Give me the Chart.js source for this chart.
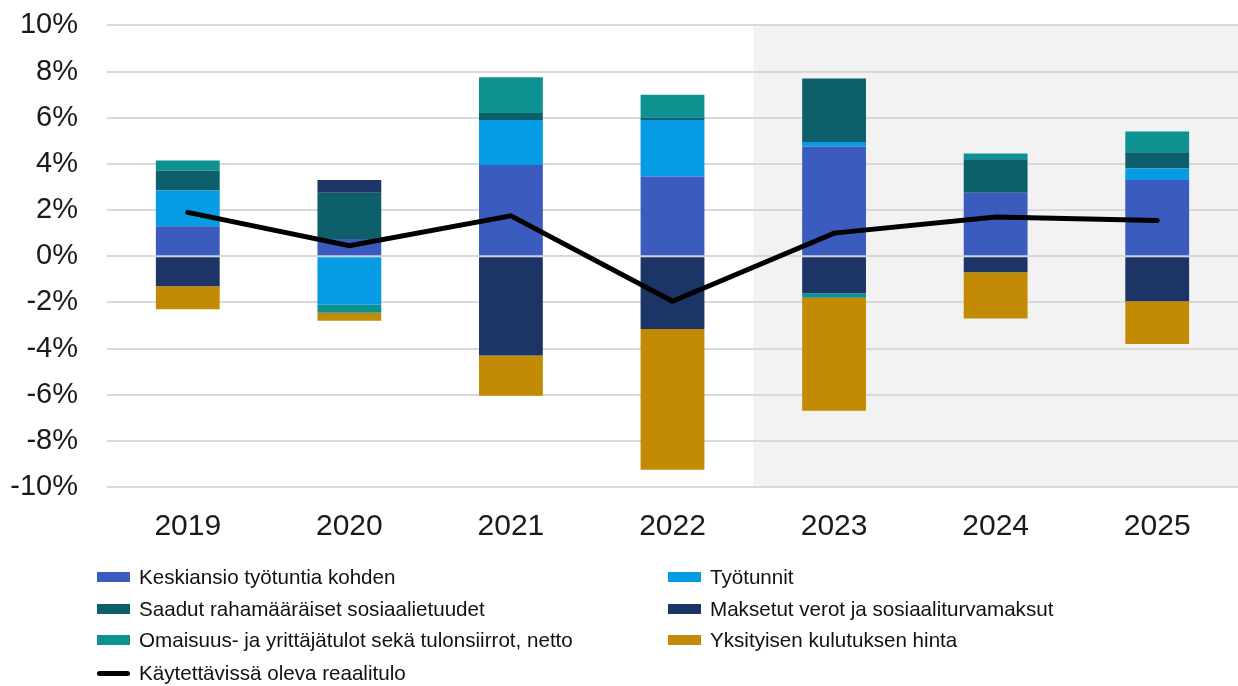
<!DOCTYPE html>
<html>
<head>
<meta charset="utf-8">
<script src="https://cdn.jsdelivr.net/npm/chart.js@4/dist/chart.umd.min.js"></script>
<style>
  html, body { margin: 0; padding: 0; background: #ffffff; }
  #wrap { position: relative; width: 1238px; height: 686px; overflow: hidden; font-family: "Liberation Sans", Arial, sans-serif; }
  #chartBox { position: absolute; left: 0; top: -21px; width: 1238px; height: 580px; }
  #legend { position: absolute; left: 0; top: 0; width: 1238px; height: 686px; pointer-events: none; }
  .li { position: absolute; display: flex; align-items: center; font-size: 20.6px; color: #111; white-space: nowrap; height: 30px; }
  .sw { display: inline-block; width: 33px; height: 10px; margin-right: 9px; }
</style>
</head>
<body>
<div id="wrap">
  <div id="chartBox"><canvas id="c"></canvas></div>
  <div id="legend"></div>
</div>
<script>
// ---- Data ----
const years = ['2019', '2020', '2021', '2022', '2023', '2024', '2025'];
const keskiansio = [1.3, 0.75, 3.95, 3.45, 4.75, 2.75, 3.3];
const tyotunnit = [1.55, -2.1, 1.95, 2.45, 0.2, 0, 0.5];
const saadut = [0.85, 2.0, 0.3, 0.1, 2.75, 1.45, 0.7];
const maksetut = [-1.3, 0.55, -4.3, -3.15, -1.6, -0.7, -1.95];
const omaisuus = [0.45, -0.35, 1.55, 1.0, -0.2, 0.25, 0.9];
const yksityisen = [-1.0, -0.35, -1.75, -6.1, -4.9, -2.0, -1.85];
const reaalitulo = [1.9, 0.45, 1.75, -1.95, 1.0, 1.7, 1.55];
const yTicks = [-10, -8, -6, -4, -2, 0, 2, 4, 6, 8, 10];
const forecastStartIndex = 4; // shaded from 2023 onwards

const seriesNames = {
  keskiansio: 'Keskiansio työtuntia kohden',
  tyotunnit: 'Työtunnit',
  saadut: 'Saadut rahamääräiset sosiaalietuudet',
  maksetut: 'Maksetut verot ja sosiaaliturvamaksut',
  omaisuus: 'Omaisuus- ja yrittäjätulot sekä tulonsiirrot, netto',
  yksityisen: 'Yksityisen kulutuksen hinta',
  reaalitulo: 'Käytettävissä oleva reaalitulo'
};
const colors = {
  keskiansio: '#3b5bbf',
  tyotunnit: '#069be5',
  saadut: '#0d5f6b',
  maksetut: '#1c3566',
  omaisuus: '#0e9191',
  yksityisen: '#c38a03',
  reaalitulo: '#000000'
};

function barDs(key, data) {
  return {
    type: 'bar', label: seriesNames[key], data: data,
    backgroundColor: colors[key], borderWidth: 0,
    stack: 'bars', order: 1,
    barPercentage: 0.395, categoryPercentage: 1.0
  };
}

const shadePlugin = {
  id: 'shade',
  beforeDraw(chart) {
    const {ctx, chartArea, scales} = chart;
    const x = scales.x;
    const x0 = (x.getPixelForValue(forecastStartIndex - 1) + x.getPixelForValue(forecastStartIndex)) / 2;
    ctx.save();
    ctx.fillStyle = '#f2f2f2';
    ctx.fillRect(x0, chartArea.top, chartArea.right - x0 + 2, chartArea.bottom - chartArea.top);
    ctx.restore();
  }
};

const zeroPlugin = {
  id: 'zeroOverBars',
  afterDatasetDraw(chart, args) {
    if (args.index !== 5) return;
    const y = chart.scales.y.getPixelForValue(0);
    const meta = chart.getDatasetMeta(0);
    const ctx = chart.ctx;
    ctx.save();
    ctx.strokeStyle = 'rgba(200,205,225,0.75)';
    ctx.lineWidth = 2;
    meta.data.forEach(b => {
      const w = b.width;
      ctx.beginPath();
      ctx.moveTo(b.x - w / 2, y);
      ctx.lineTo(b.x + w / 2, y);
      ctx.stroke();
    });
    ctx.restore();
  }
};

const chart = new Chart(document.getElementById('c'), {
  data: {
    labels: years,
    datasets: [
      barDs('keskiansio', keskiansio),
      barDs('tyotunnit', tyotunnit),
      barDs('saadut', saadut),
      barDs('maksetut', maksetut),
      barDs('omaisuus', omaisuus),
      barDs('yksityisen', yksityisen),
      {
        type: 'line', label: seriesNames.reaalitulo, data: reaalitulo,
        borderColor: colors.reaalitulo, backgroundColor: colors.reaalitulo,
        borderWidth: 5, pointRadius: 0, tension: 0, stack: 'line', order: 0,
        borderJoinStyle: 'miter', borderCapStyle: 'round'
      }
    ]
  },
  options: {
    responsive: true,
    maintainAspectRatio: false,
    animation: false,
    layout: { padding: { top: 12, right: 0, left: 0, bottom: 0 } },
    plugins: { legend: { display: false }, tooltip: { enabled: false } },
    scales: {
      x: {
        stacked: true,
        grid: { display: false },
        border: { display: false },
        ticks: { color: '#1a1a1a', font: { family: 'Liberation Sans', size: 30 }, padding: 14, maxRotation: 0 }
      },
      y: {
        stacked: true,
        min: -10, max: 10,
        afterBuildTicks(scale) { scale.ticks = yTicks.map(v => ({ value: v })); },
        afterFit(scale) { scale.width = 107; },
        grid: { color: '#d9d9d9', lineWidth: 2, drawTicks: false },
        border: { display: false },
        ticks: {
          color: '#1a1a1a', font: { family: 'Liberation Sans', size: 29 }, padding: 29,
          callback: v => v + '%'
        }
      }
    }
  },
  plugins: [shadePlugin, zeroPlugin]
});

// ---- HTML legend built from datasets ----
const legendLayout = [
  { ds: 0, left: 97, top: 562 }, { ds: 1, left: 668, top: 562 },
  { ds: 2, left: 97, top: 594 }, { ds: 3, left: 668, top: 594 },
  { ds: 4, left: 97, top: 625 }, { ds: 5, left: 668, top: 625 },
  { ds: 6, left: 97, top: 658 }
];
const legendEl = document.getElementById('legend');
legendLayout.forEach(item => {
  const ds = chart.data.datasets[item.ds];
  const div = document.createElement('div');
  div.className = 'li';
  div.style.left = item.left + 'px';
  div.style.top = item.top + 'px';
  const sw = document.createElement('span');
  sw.className = 'sw';
  if (ds.type === 'line') {
    sw.style.height = '5px';
    sw.style.borderRadius = '3px';
    sw.style.background = ds.borderColor;
  } else {
    sw.style.background = ds.backgroundColor;
  }
  const tx = document.createElement('span');
  tx.textContent = ds.label;
  div.appendChild(sw);
  div.appendChild(tx);
  legendEl.appendChild(div);
});
</script>
</body>
</html>
